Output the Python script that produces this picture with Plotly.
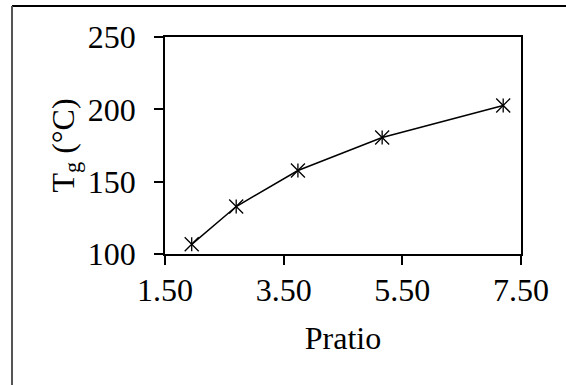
import plotly.graph_objects as go

# Data
pratio = [1.95, 2.70, 3.74, 5.16, 7.20]
tg = [106.7, 132.8, 157.7, 180.5, 202.7]
x_ticks = [1.5, 3.5, 5.5, 7.5]
x_tick_labels = ["1.50", "3.50", "5.50", "7.50"]
y_ticks = [100, 150, 200, 250]

FONT = "Liberation Serif"
FS = 32

fig = go.Figure()
# line + diagonal cross part of asterisk
fig.add_trace(go.Scatter(
    x=pratio, y=tg, mode="lines+markers",
    line=dict(color="black", width=1.5),
    marker=dict(symbol="x-thin-open", size=14, color="black",
                line=dict(color="black", width=1.3)),
    showlegend=False, hoverinfo="skip"))
# vertical arm of asterisk
fig.add_trace(go.Scatter(
    x=pratio, y=tg, mode="markers",
    marker=dict(symbol="line-ns-open", size=10, color="black",
                line=dict(color="black", width=1.3)),
    showlegend=False, hoverinfo="skip"))

W, H = 566, 385
L, R, T, B = 165, 45, 37, 131
pw, ph = W - L - R, H - T - B

def px(x):
    return (x - L) / pw

def py(y):
    return (H - B - y) / ph

fig.update_layout(
    width=W, height=H,
    margin=dict(l=L, r=R, t=T, b=B, pad=0),
    paper_bgcolor="white", plot_bgcolor="white",
    font=dict(family=FONT, size=FS, color="black"),
    xaxis=dict(range=[1.5, 7.5], tickvals=x_ticks, ticktext=x_tick_labels,
               showgrid=False, zeroline=False, showline=True, linecolor="black",
               linewidth=1.5, mirror=True, ticks="outside", ticklen=9,
               tickwidth=1.5, tickcolor="black", ticklabelstandoff=-2,
               tickfont=dict(family=FONT, size=FS),
               title=dict(text="Pratio", font=dict(family=FONT, size=FS), standoff=19)),
    yaxis=dict(range=[100, 250], tickvals=y_ticks,
               showgrid=False, zeroline=False, showline=True, linecolor="black",
               linewidth=1.5, mirror=True, ticks="outside", ticklen=9,
               tickwidth=1.5, tickcolor="black", ticklabelstandoff=12,
               tickfont=dict(family=FONT, size=FS),
               title=dict(text="T<sub>g</sub> (°C)", font=dict(family=FONT, size=FS), standoff=4)),
    shapes=[
        dict(type="line", xref="paper", yref="paper",
             x0=px(12), x1=px(566), y0=py(6), y1=py(6),
             line=dict(color="black", width=2)),
        dict(type="line", xref="paper", yref="paper",
             x0=px(12), x1=px(12), y0=py(6), y1=py(385),
             line=dict(color="#555555", width=2)),
    ],
)

fig.write_html("out.html",
               config={"displayModeBar": False},
               post_script="document.body.style.margin='0';document.body.style.padding='0';")
